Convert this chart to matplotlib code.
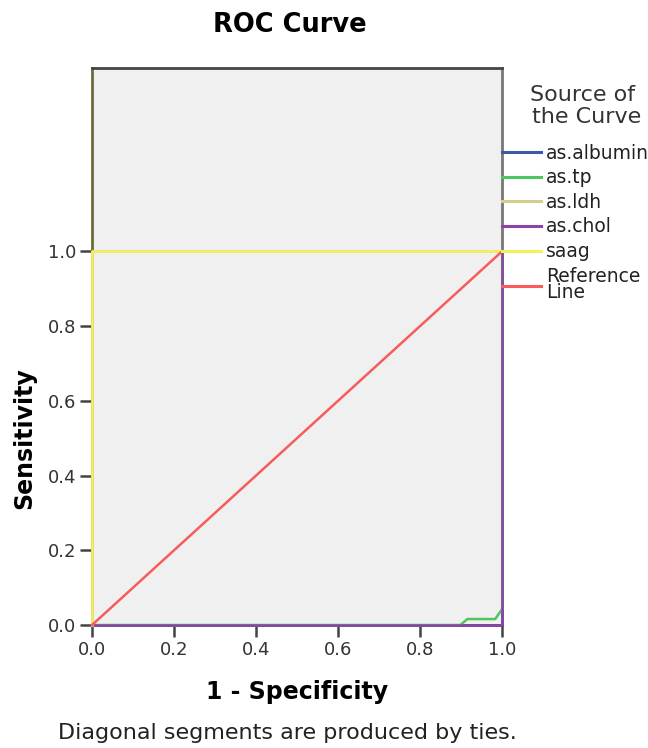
import matplotlib.pyplot as plt
from matplotlib.lines import Line2D

plt.rcParams['font.family'] = ['DejaVu Sans']

# ROC coordinates (1 - specificity, sensitivity) per test variable
albumin_x = [0.0, 1.0, 1.0]
albumin_y = [0.0, 0.0, 1.0]
tp_x = [0.0, 0.898, 0.915, 0.983, 1.0, 1.0]
tp_y = [0.0, 0.0, 0.016, 0.016, 0.043, 1.0]
ldh_x = [0.0, 0.0, 1.0]
ldh_y = [0.0, 1.0, 1.0]
chol_x = [0.0, 1.0, 1.0]
chol_y = [0.0, 0.0, 1.0]
saag_x = [0.0, 0.0, 1.0]
saag_y = [0.0, 1.0, 1.0]
ref_x = [0.0, 1.0]
ref_y = [0.0, 1.0]

names = ['as.albumin', 'as.tp', 'as.ldh', 'as.chol', 'saag', 'Reference\nLine']
colors = ['#3e58ac', '#4cc660', '#d2cf8c', '#8e44a4', '#f4f25c', '#f65c5c']
ticks = [0.0, 0.2, 0.4, 0.6, 0.8, 1.0]

fig = plt.figure(figsize=(6.48, 7.48), dpi=100)
ax = fig.add_axes([0.142, 0.1644, 0.633, 0.7446])
ax.set_facecolor('#f0f0f0')

series = [(albumin_x, albumin_y), (tp_x, tp_y), (ldh_x, ldh_y),
          (chol_x, chol_y), (saag_x, saag_y), (ref_x, ref_y)]
for (xs, ys), c in zip(series, colors):
    ax.plot(xs, ys, color=c, lw=1.8, clip_on=False, zorder=3)

ax.set_xlim(0, 1)
ax.set_ylim(0, 1.49)
ax.set_xticks(ticks)
ax.set_yticks(ticks)
ax.set_xticklabels([f'{t:.1f}' for t in ticks])
ax.set_yticklabels([f'{t:.1f}' for t in ticks])
ax.tick_params(length=8.5, width=1.8, color='#444444', labelsize=13,
               labelcolor='#333333', pad=3)
for s in ax.spines.values():
    s.set_color('#444444')
    s.set_linewidth(2)
ax.spines['right'].set_color('#777777')
ax.spines['left'].set_color('#6e6a3a')

ax.set_xlabel('1 - Specificity', fontsize=17, fontweight='bold')
ax.xaxis.set_label_coords(0.5, -0.098)
ax.set_ylabel('Sensitivity', fontsize=17, fontweight='bold')
ax.yaxis.set_label_coords(-0.135, 0.5 / 1.49)

fig.suptitle('ROC Curve', x=0.448, y=0.984, fontsize=18.5, fontweight='bold')
fig.text(0.444, 0.012, 'Diagonal segments are produced by ties.',
         ha='center', fontsize=16, color='#222222')

# legend heading, two lines
fig.text(0.818, 1 - 101 / 748, 'Source of', fontsize=16, color='#333333',
         va='baseline')
fig.text(0.821, 1 - 123 / 748, 'the Curve', fontsize=16, color='#333333',
         va='baseline')

handles = [Line2D([], [], color=c, lw=2.2) for c in colors]
leg = fig.legend(handles, names, loc='upper left',
                 bbox_to_anchor=(0.7747, 0.808),
                 frameon=False, fontsize=13.5,
                 handlelength=2.08, handletextpad=0.27, labelspacing=0.30,
                 borderaxespad=0, borderpad=0)
for t in leg.get_texts():
    t.set_color('#222222')
    t.set_linespacing(0.85)

fig.savefig('out.png', dpi=100)
